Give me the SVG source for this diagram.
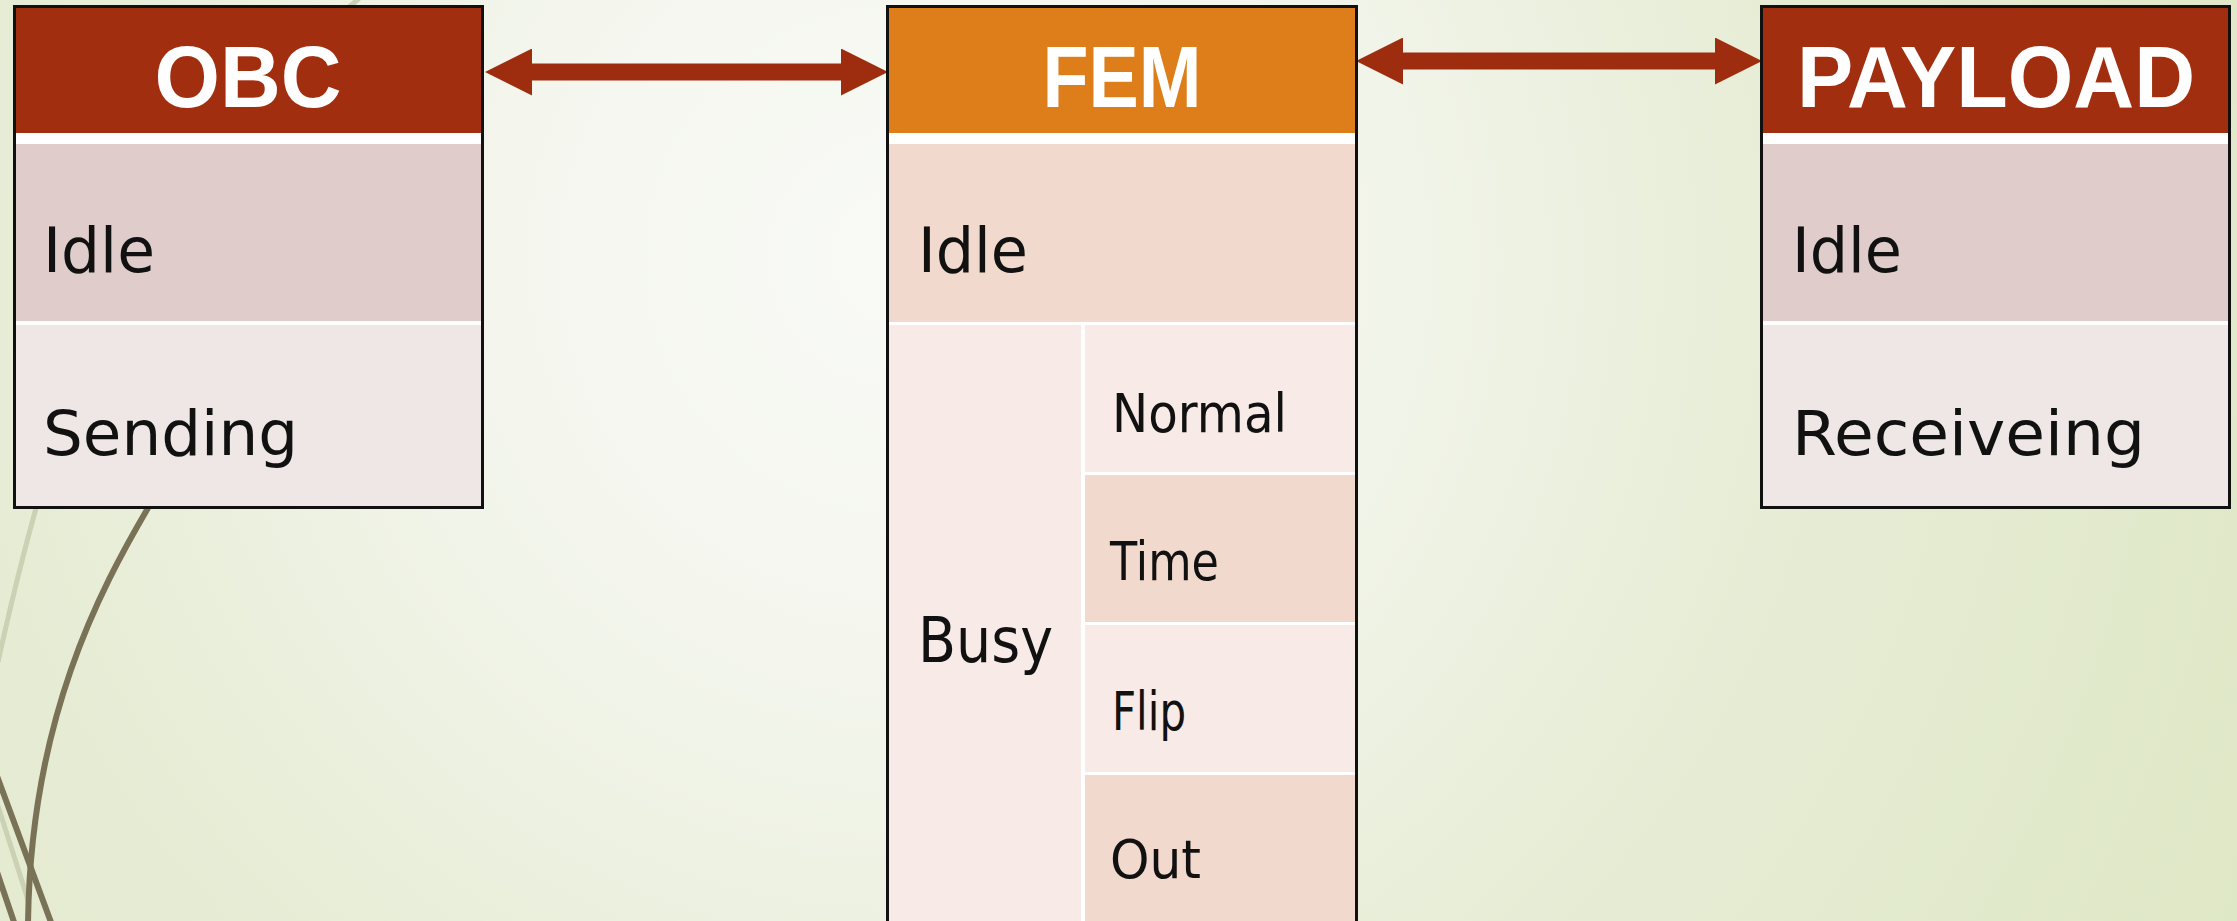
<svg xmlns="http://www.w3.org/2000/svg" width="2237" height="921" viewBox="0 0 2237 921">
  <defs>
    <radialGradient id="bg" gradientUnits="userSpaceOnUse" cx="900" cy="260" r="1600">
      <stop offset="0" stop-color="#F9FAF6"/>
      <stop offset="0.25" stop-color="#F4F6EE"/>
      <stop offset="0.55" stop-color="#E7EDD6"/>
      <stop offset="1" stop-color="#DDE6C3"/>
    </radialGradient>
    <marker id="head" viewBox="0 0 47 47" refX="0" refY="23.5" markerWidth="47" markerHeight="47" markerUnits="userSpaceOnUse" orient="auto-start-reverse">
      <path d="M0,0 L47,23.5 L0,47 Z" fill="#9E2D10"/>
    </marker>
    <style>
      .frame { fill: #ffffff; stroke: #111111; stroke-width: 3; }
      .hdr-red { fill: #A22E10; }
      .hdr-orange { fill: #DD7E1A; }
      .c-dark { fill: #E0CDCB; }
      .c-light { fill: #EFE7E5; }
      .f-dark { fill: #F2D9CD; }
      .f-light { fill: #F8EAE6; }
      .title { font-family: "Liberation Sans", "DejaVu Sans", sans-serif; font-weight: bold; font-size: 88px; fill: #ffffff; }
      .big { font-family: "DejaVu Sans", "Liberation Sans", sans-serif; font-size: 62px; fill: #111111; }
      .small { font-family: "DejaVu Sans", "Liberation Sans", sans-serif; font-size: 53px; fill: #111111; }
      .link { stroke: #9E2D10; stroke-width: 17; fill: none; marker-start: url(#head); marker-end: url(#head); }
      .swoosh { fill: none; stroke: #7A7256; stroke-width: 6; stroke-linecap: round; }
      .swoosh-pale { fill: none; stroke: #CBD1B3; stroke-width: 5; }
    </style>
  </defs>

  <!-- backdrop -->
  <rect x="0" y="0" width="2237" height="921" fill="url(#bg)"/>

  <!-- decorative swooshes on the left edge -->
  <g id="swooshes">
    <path class="swoosh-pale" d="M362,-4 L336,18" stroke-width="2"/>
    <path class="swoosh-pale" d="M36,508 Q16,580 -2,662"/>
    <path class="swoosh-pale" d="M-2,806 L28,900" stroke-width="8"/>
    <path class="swoosh" d="M148,508 C100,590 30,720 28,925"/>
    <path class="swoosh" d="M-3,776 L52,925"/>
    <path class="swoosh" d="M-3,872 L15,925"/>
  </g>

  <!-- connectors -->
  <g id="connectors">
    <line class="link" x1="532" y1="72" x2="841" y2="72"/>
    <line class="link" x1="1403" y1="61" x2="1715" y2="61"/>
  </g>

  <!-- OBC -->
  <g id="obc">
    <rect class="frame" x="14.5" y="6.5" width="468" height="501"/>
    <rect class="hdr-red" x="16" y="8" width="465" height="125"/>
    <rect class="c-dark" x="16" y="144" width="465" height="177"/>
    <rect class="c-light" x="16" y="325" width="465" height="181"/>
    <text class="title" x="248" y="107" text-anchor="middle" textLength="187" lengthAdjust="spacingAndGlyphs">OBC</text>
    <text class="big" x="43" y="272" textLength="112" lengthAdjust="spacingAndGlyphs">Idle</text>
    <text class="big" x="43" y="455" textLength="255" lengthAdjust="spacingAndGlyphs">Sending</text>
  </g>

  <!-- FEM -->
  <g id="fem">
    <rect class="frame" x="887.5" y="6.5" width="469" height="930"/>
    <rect class="hdr-orange" x="889" y="8" width="466" height="125"/>
    <rect class="f-dark" x="889" y="144" width="466" height="178"/>
    <rect class="f-light" x="889" y="325" width="192" height="610"/>
    <rect class="f-light" x="1085" y="325" width="270" height="147"/>
    <rect class="f-dark" x="1085" y="475" width="270" height="147"/>
    <rect class="f-light" x="1085" y="625" width="270" height="147"/>
    <rect class="f-dark" x="1085" y="775" width="270" height="160"/>
    <text class="title" x="1122" y="107" text-anchor="middle" textLength="159" lengthAdjust="spacingAndGlyphs">FEM</text>
    <text class="big" x="918" y="272" textLength="110" lengthAdjust="spacingAndGlyphs">Idle</text>
    <text class="big" x="918" y="662" textLength="135" lengthAdjust="spacingAndGlyphs">Busy</text>
    <text class="small" x="1112" y="432" textLength="175" lengthAdjust="spacingAndGlyphs">Normal</text>
    <text class="small" x="1110" y="580" textLength="109" lengthAdjust="spacingAndGlyphs">Time</text>
    <text class="small" x="1112" y="730" textLength="74" lengthAdjust="spacingAndGlyphs">Flip</text>
    <text class="small" x="1110" y="878" textLength="91" lengthAdjust="spacingAndGlyphs">Out</text>
  </g>

  <!-- PAYLOAD -->
  <g id="payload">
    <rect class="frame" x="1761.5" y="6.5" width="468" height="501"/>
    <rect class="hdr-red" x="1763" y="8" width="465" height="125"/>
    <rect class="c-dark" x="1763" y="144" width="465" height="177"/>
    <rect class="c-light" x="1763" y="325" width="465" height="181"/>
    <text class="title" x="1996" y="107" text-anchor="middle" textLength="398" lengthAdjust="spacingAndGlyphs">PAYLOAD</text>
    <text class="big" x="1792" y="272" textLength="110" lengthAdjust="spacingAndGlyphs">Idle</text>
    <text class="big" x="1792" y="455" textLength="353" lengthAdjust="spacingAndGlyphs">Receiveing</text>
  </g>
</svg>
